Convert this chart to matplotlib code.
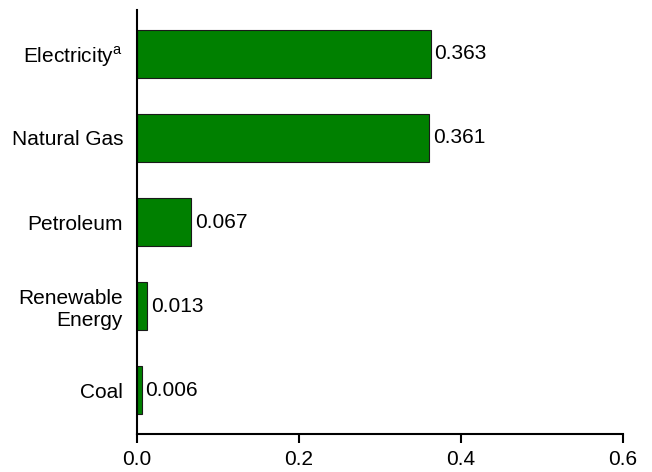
import matplotlib.pyplot as plt
import numpy as np

plt.rcParams['font.family'] = ['Liberation Sans', 'DejaVu Sans']

# data (top to bottom)
categories = ["Electricity$^\\mathregular{a}$", "Natural Gas", "Petroleum",
              "Renewable\nEnergy", "Coal"]
values = [0.363, 0.361, 0.067, 0.013, 0.006]
value_labels = ["0.363", "0.361", "0.067", "0.013", "0.006"]
xticks = [0.0, 0.2, 0.4, 0.6]

fig = plt.figure(figsize=(6.52, 4.72), dpi=100)
ax = fig.add_axes([0.210, 0.0805, 0.745, 0.898])

ypos = np.arange(len(categories))[::-1]
ax.barh(ypos, values, height=0.57, color='#008000', edgecolor='#1a1a1a', linewidth=0.8)

for y, v, lab in zip(ypos, values, value_labels):
    ax.annotate(lab, (v, y), xytext=(2.5, 0), textcoords='offset points',
                va='center', ha='left', fontsize=15)

ax.set_yticks(ypos)
ax.set_yticklabels(categories, fontsize=15, ha='right', multialignment='right')
ax.tick_params(axis='y', length=0, pad=10)
ax.set_xticks(xticks)
ax.set_xticklabels([f"{t:.1f}" for t in xticks], fontsize=15)
ax.tick_params(axis='x', length=6.5, width=1.5, pad=5)
ax.set_xlim(0, 0.6)
ax.set_ylim(-0.52, 4.52)

for s in ['top', 'right']:
    ax.spines[s].set_visible(False)
for s in ['left', 'bottom']:
    ax.spines[s].set_linewidth(1.5)

plt.savefig('out.png', dpi=100)
